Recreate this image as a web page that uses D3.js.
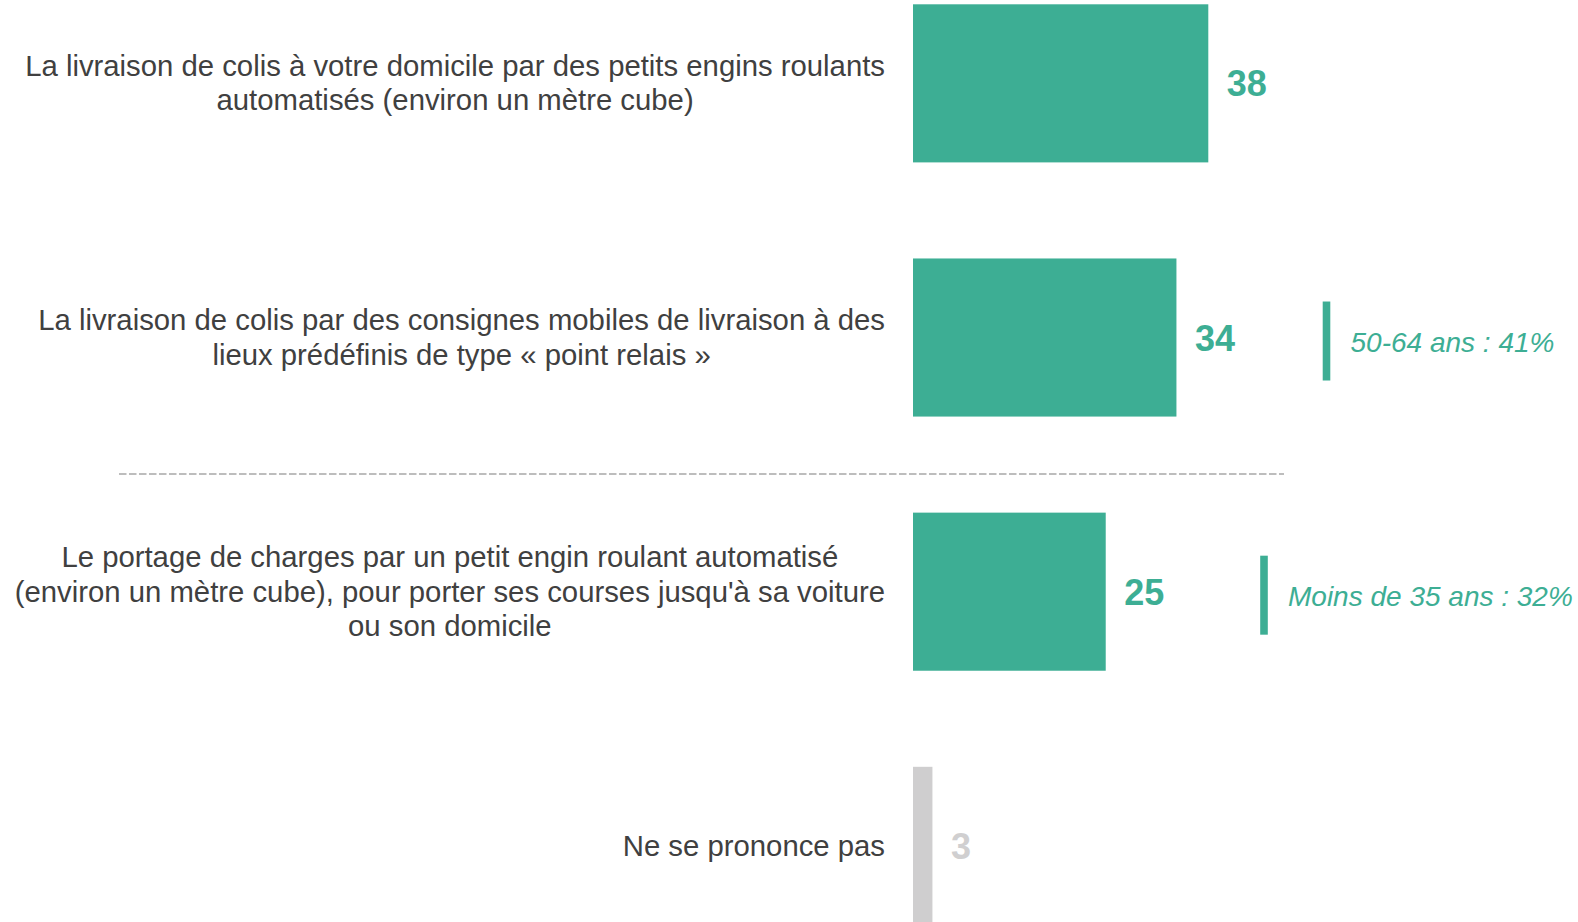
<!DOCTYPE html>
<html><head><meta charset="utf-8">
<script src="https://cdn.jsdelivr.net/npm/d3@7"></script>
<style>html,body{margin:0;padding:0;background:#fff;overflow:hidden}</style>
</head><body>
<svg id="c" width="1578" height="922"></svg>
<script>
const categories = [
  "La livraison de colis à votre domicile par des petits engins roulants\nautomatisés (environ un mètre cube)",
  "La livraison de colis par des consignes mobiles de livraison à des\nlieux prédéfinis de type « point relais »",
  "Le portage de charges par un petit engin roulant automatisé\n(environ un mètre cube), pour porter ses courses jusqu'à sa voiture\nou son domicile",
  "Ne se prononce pas"
];
const values = [38, 33.9, 24.8, 2.5];
const valueLabels = ["38", "34", "25", "3"];
const notes = ["", "50-64 ans : 41%", "Moins de 35 ans : 32%", ""];

const green = "#3dae94", gray = "#cfcecf", textCol = "#404040";
const svg = d3.select("#c");
const x = d3.scaleLinear().domain([0, 38]).range([913, 1208.3]);
const y = d3.scaleBand().domain(categories).range([4.3, 924.9]).paddingInner(0.378).paddingOuter(0);
const isNSP = i => i === categories.length - 1;

// separator
svg.append("line").attr("x1", 119).attr("x2", 1284).attr("y1", 474).attr("y2", 474)
  .attr("stroke", "#bdbdbd").attr("stroke-width", 2).attr("stroke-dasharray", "7.5,2.5");

const g = svg.selectAll("g.row").data(categories).join("g").attr("class", "row");

g.append("rect")
  .attr("x", x(0)).attr("y", d => y(d))
  .attr("width", (d, i) => x(values[i]) - x(0))
  .attr("height", y.bandwidth())
  .attr("fill", (d, i) => isNSP(i) ? gray : green);

g.append("text")
  .attr("x", (d, i) => x(values[i]) + 18.5)
  .attr("y", d => y(d) + y.bandwidth() / 2 + 13)
  .attr("font-family", "Liberation Sans, Arial, sans-serif")
  .attr("font-weight", "bold").attr("font-size", 36)
  .attr("fill", (d, i) => isNSP(i) ? "#d0cfd0" : green)
  .text((d, i) => valueLabels[i]);

// category labels: lines centered in a block right-aligned at 885
const fs = 29.3;
const ctx = document.createElement("canvas").getContext("2d");
ctx.font = fs + "px 'Liberation Sans'";
const lh = 34.2;
g.each(function(d) {
  const lines = d.split("\n");
  const maxW = d3.max(lines, l => ctx.measureText(l).width);
  const cx = 885 - maxW / 2;
  const cy = y(d) + y.bandwidth() / 2;
  const t = d3.select(this).append("text")
    .attr("font-family", "Liberation Sans, Arial, sans-serif")
    .attr("font-size", fs).attr("fill", textCol).attr("text-anchor", "middle");
  lines.forEach((l, k) => {
    t.append("tspan").attr("x", cx)
      .attr("y", cy + (k - (lines.length - 1) / 2) * lh + 10)
      .text(l);
  });
});

// annotations
const noteLineX = [0, 1326.5, 1264, 0];
g.filter((d, i) => notes[i] !== "").each(function(d) {
  const i = categories.indexOf(d);
  const cy = y(d) + y.bandwidth() / 2 + 3.5;
  const s = d3.select(this);
  s.append("line").attr("x1", noteLineX[i]).attr("x2", noteLineX[i])
    .attr("y1", cy - 39.5).attr("y2", cy + 39.5)
    .attr("stroke", green).attr("stroke-width", 7.6);
  s.append("text").attr("x", noteLineX[i] + 24).attr("y", cy + 10.5)
    .attr("font-family", "Liberation Sans, Arial, sans-serif")
    .attr("font-style", "italic").attr("font-size", 28).attr("fill", green)
    .text(notes[i]);
});
</script>
</body></html>
